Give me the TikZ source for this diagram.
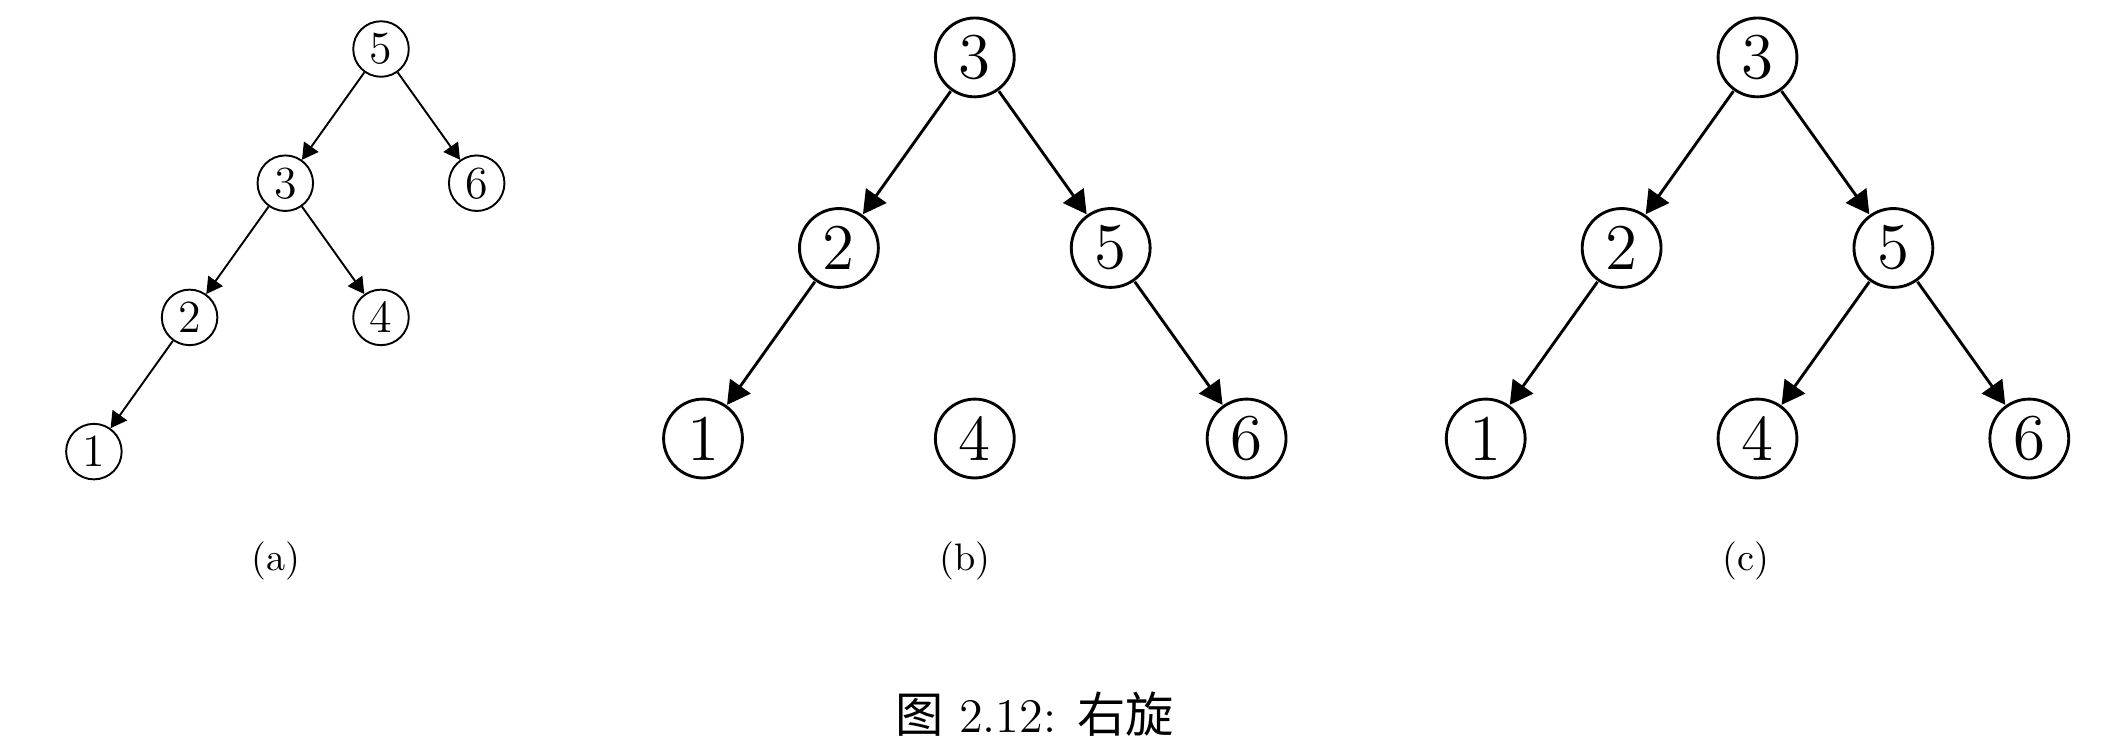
\documentclass[tikz,border=0pt]{standalone}
\usepackage{fontspec}
\newfontfamily\cjk{Noto Sans CJK SC}
\usepackage{tikz}
\usetikzlibrary{positioning,arrows.meta}

\begin{document}
\begin{tikzpicture}[
  x=0.2611pt, y=-0.2611pt,
  vtx/.style={draw, circle, minimum size=14.5pt, inner sep=0pt, line width=0.5pt, font=\fontsize{12pt}{14pt}\selectfont},
  bigvtx/.style={vtx, line width=0.75pt},
  edge/.style={-{Triangle[length=4.2pt, width=4.6pt]}, line width=0.5pt},
  bigedge/.style={-{Triangle[length=6pt, width=6.5pt]}, line width=0.75pt},
  sublabel/.style={font=\fontsize{10pt}{12pt}\selectfont}
]
\useasboundingbox (0,0) rectangle (2121,752);

% Tree (a)
\node[vtx] (a5) at (381,49) {5};
\node[vtx] (a3) at (285.3,183.2) {3};
\node[vtx] (a6) at (476.7,183.2) {6};
\node[vtx] (a2) at (189.6,317.4) {2};
\node[vtx] (a4) at (381,317.4) {4};
\node[vtx] (a1) at (93.9,451.6) {1};

\draw[edge] (a5) -- (a3);
\draw[edge] (a5) -- (a6);
\draw[edge] (a3) -- (a2);
\draw[edge] (a3) -- (a4);
\draw[edge] (a2) -- (a1);

% Tree (b)
\begin{scope}[shift={(974.8,57.4)}, scale=1.42, transform shape]
\node[bigvtx] (b3) at (0,0) {3};
\node[bigvtx] (b2) at (-95.7,134.2) {2};
\node[bigvtx] (b5) at (95.7,134.2) {5};
\node[bigvtx] (b1) at (-191.4,268.4) {1};
\node[bigvtx] (b4) at (0,268.4) {4};
\node[bigvtx] (b6) at (191.4,268.4) {6};

\draw[bigedge] (b3) -- (b2);
\draw[bigedge] (b3) -- (b5);
\draw[bigedge] (b2) -- (b1);
\draw[bigedge] (b5) -- (b6);
\end{scope}

% Tree (c)
\begin{scope}[shift={(1757.5,57.4)}, scale=1.42, transform shape]
\node[bigvtx] (c3) at (0,0) {3};
\node[bigvtx] (c2) at (-95.7,134.2) {2};
\node[bigvtx] (c5) at (95.7,134.2) {5};
\node[bigvtx] (c1) at (-191.4,268.4) {1};
\node[bigvtx] (c4) at (0,268.4) {4};
\node[bigvtx] (c6) at (191.4,268.4) {6};

\draw[bigedge] (c3) -- (c2);
\draw[bigedge] (c3) -- (c5);
\draw[bigedge] (c2) -- (c1);
\draw[bigedge] (c5) -- (c4);
\draw[bigedge] (c5) -- (c6);
\end{scope}

% Labels
\node[sublabel] (la) at (276,560.7) {(a)};
\node[sublabel] (lb) at (965,560.7) {(b)};
\node[sublabel] (lc) at (1746,560.7) {(c)};
\node[font=\fontsize{12.6pt}{14pt}\selectfont] (cap) at (1034.5,714) {{\cjk 图} 2.12: {\cjk 右旋}};
\end{tikzpicture}
\end{document}
